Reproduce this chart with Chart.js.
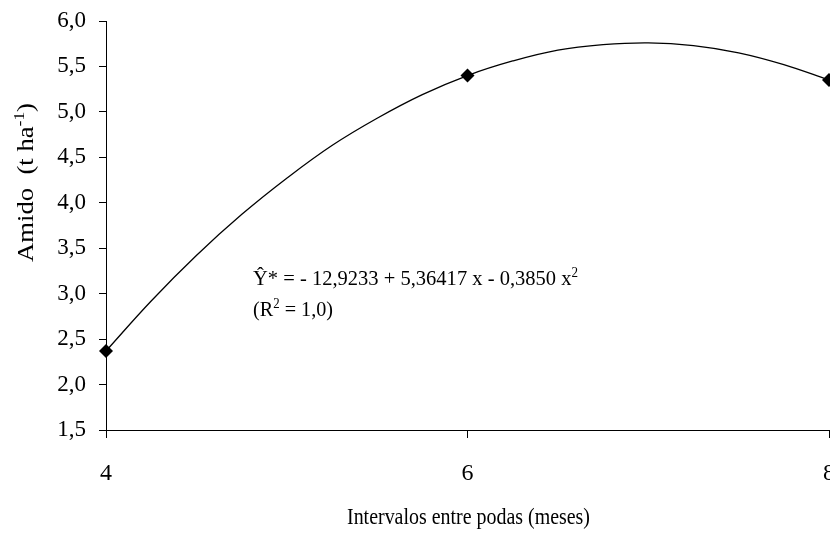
<!DOCTYPE html>
<html lang="pt-br">
<head>
<meta charset="UTF-8">
<title>Amido</title>
<style>
  body { margin: 0; background: #fff; overflow: hidden; }
  canvas { display: block; }
</style>
</head>
<body>
<canvas id="grafico" width="830" height="534"></canvas>
<script src="https://cdn.jsdelivr.net/npm/chart.js"></script>
<script>
  // pontos observados
  var intervalos = [4, 6, 8];
  var amido = [2.37, 5.40, 5.35];

  // curva ajustada
  var curvaX = [4, 4.25, 4.5, 4.75, 5, 5.25, 5.5, 5.75, 6, 6.25, 6.5, 6.75, 7, 7.25, 7.5, 7.75, 8];
  var curvaY = [2.37, 2.92, 3.42, 3.87, 4.27, 4.63, 4.93, 5.19, 5.40, 5.56, 5.68, 5.74, 5.76, 5.73, 5.65, 5.52, 5.35];

  var ticksX = [4, 6, 8];
  var ticksY = [1.5, 2.0, 2.5, 3.0, 3.5, 4.0, 4.5, 5.0, 5.5, 6.0];

  var fonte = '"Liberation Serif", "Times New Roman", serif';

  // desenha pedaços de texto (com sobrescrito) e ajusta na largura pedida
  function desenharPartes(ctx, partes, x, y, largura) {
    var total = 0;
    partes.forEach(function (p) {
      ctx.font = p[1] + 'px ' + fonte;
      total += ctx.measureText(p[0]).width;
    });
    var esc = largura ? largura / total : 1;
    ctx.save();
    ctx.translate(x, y);
    ctx.scale(esc, 1);
    ctx.fillStyle = '#000';
    ctx.textBaseline = 'alphabetic';
    ctx.textAlign = 'left';
    var pos = 0;
    partes.forEach(function (p) {
      ctx.font = p[1] + 'px ' + fonte;
      ctx.fillText(p[0], pos, -p[2]);
      pos += ctx.measureText(p[0]).width;
    });
    ctx.restore();
  }

  var textos = {
    id: 'textos',
    afterDraw: function (chart) {
      var ctx = chart.ctx;
      // titulo do eixo y
      ctx.save();
      ctx.translate(33, 262);
      ctx.rotate(-Math.PI / 2);
      desenharPartes(ctx, [['Amido  (t ha', 23, 0], ['-1', 15, 9], [')', 23, 0]], 0, 0, 159);
      ctx.restore();
      // equacao
      desenharPartes(ctx, [['Ŷ* = - 12,9233 + 5,36417 x - 0,3850 x', 22, 0], ['2', 14, 8]], 253, 285, 325);
      desenharPartes(ctx, [['(R', 22, 0], ['2', 14, 8], [' = 1,0)', 22, 0]], 253, 316, 80);
      // titulo do eixo x
      desenharPartes(ctx, [['Intervalos entre podas (meses)', 23, 0]], 347, 524, 243);
    }
  };

  new Chart(document.getElementById('grafico'), {
    type: 'line',
    data: {
      datasets: [{
        label: 'curva',
        data: curvaX.map(function (x, i) { return { x: x, y: curvaY[i] }; }),
        borderColor: '#000',
        borderWidth: 1.3,
        pointRadius: 0,
        tension: 0.4,
        fill: false
      }, {
        label: 'amido',
        data: intervalos.map(function (x, i) { return { x: x, y: amido[i] }; }),
        showLine: false,
        pointStyle: 'rectRot',
        pointRadius: 7,
        backgroundColor: '#000',
        borderColor: '#000',
        borderWidth: 0
      }]
    },
    options: {
      responsive: false,
      animation: false,
      clip: false,
      layout: { autoPadding: false, padding: { top: 21, right: 1, bottom: 0, left: 0 } },
      plugins: { legend: { display: false }, tooltip: { enabled: false } },
      scales: {
        x: {
          type: 'linear',
          min: 4,
          max: 8,
          afterBuildTicks: function (scale) {
            scale.ticks = ticksX.map(function (v) { return { value: v }; });
          },
          afterFit: function (scale) {
            scale.height = 104;
            scale.paddingLeft = 0;
            scale.paddingRight = 0;
          },
          grid: { display: true, drawOnChartArea: false, drawTicks: true, tickLength: 8, color: '#000' },
          border: { display: true, color: '#000', width: 1 },
          ticks: {
            color: '#000',
            padding: 21,
            maxRotation: 0,
            font: { family: fonte, size: 24 },
            callback: function (v) { return String(v); }
          }
        },
        y: {
          min: 1.5,
          max: 6,
          afterBuildTicks: function (scale) {
            scale.ticks = ticksY.map(function (v) { return { value: v }; });
          },
          afterFit: function (scale) {
            scale.width = 106;
            scale.paddingTop = 0;
            scale.paddingBottom = 0;
          },
          grid: { display: true, drawOnChartArea: false, drawTicks: true, tickLength: 7, color: '#000' },
          border: { display: true, color: '#000', width: 1 },
          ticks: {
            color: '#000',
            padding: 13,
            font: { family: fonte, size: 23 },
            callback: function (v) { return v.toFixed(1).replace('.', ','); }
          }
        }
      }
    },
    plugins: [textos]
  });
</script>
</body>
</html>
